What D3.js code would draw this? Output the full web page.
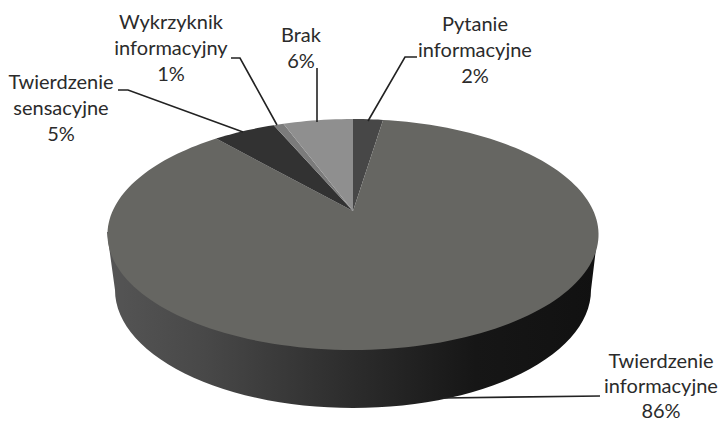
<!DOCTYPE html>
<html>
<head>
<meta charset="utf-8">
<script src="https://d3js.org/d3.v7.min.js"></script>
<style>
  html, body { margin: 0; background: #fff; }
  text { font-family: Lato, "Open Sans", sans-serif; font-size: 20px; fill: #2b2b2b; }
</style>
</head>
<body>
<div id="chart"></div>
<script>
// Shares, clockwise from 12 o'clock (labels show them rounded)
const categories = ["Pytanie informacyjne", "Twierdzenie informacyjne", "Twierdzenie sensacyjne", "Wykrzyknik informacyjny", "Brak"];
const values = [2.4, 86.2, 5.0, 0.8, 5.6];
const sliceColors = ["#474747", "#666662", "#323232", "#7b7b7b", "#8f8f8f"];

// label lines of text per category, in the same order
const labelLines = [["Pytanie", "informacyjne"], ["Twierdzenie", "informacyjne"], ["Twierdzenie", "sensacyjne"], ["Wykrzyknik", "informacyjny"], ["Brak"]];
const labelPos = [[475, 31], [661, 368], [61, 89], [171, 29], [301, 42]];
const labelStep = [26, 25, 26, 26, 26];
const leaders = [
  [[417, 57], [405, 57], [368, 121]],
  [[600, 396], [443, 398]],
  [[118, 90], [128, 90], [243, 132]],
  [[231, 58], [240, 58], [277, 125]],
  [[317, 68], [317, 122]]
];

const width = 722, height = 423;
const svg = d3.select("#chart").append("svg")
    .attr("width", width)
    .attr("height", height)
    .style("display", "block");

// Perspective of the tilted disc: the apex sits above the middle of the ellipse
const apex = {x: 353, y: 211};
const k = 0.2034;
const xScale = d3.scaleLinear().domain([-1, 1]).range([apex.x - 240.4, apex.x + 240.4]);
const yScale = d3.scaleLinear().domain([-1, 1]).range([apex.y + 110.7, apex.y - 110.7]);

function project(angle) {
  const u = Math.sin(angle), v = Math.cos(angle);
  const w = 1 + k * v;
  return [xScale(u / w), yScale(v / w)];
}

const pie = d3.pie().sort(null).value(d => d);
const arcs = pie(values);
const line = d3.line();

// Side wall
const defs = svg.append("defs");
const grad = defs.append("linearGradient").attr("id", "wall")
    .attr("gradientUnits", "userSpaceOnUse")
    .attr("x1", 107).attr("x2", 598).attr("y1", 0).attr("y2", 0);
[[0, "#555555"], [0.2, "#484848"], [0.5, "#2c2c2c"], [0.75, "#161616"], [1, "#111111"]]
  .forEach(s => grad.append("stop").attr("offset", s[0]).attr("stop-color", s[1]));

const bottomCx = 353, bottomCy = 290, bottomRx = 238, bottomRy = 118;
const wallBottom = d3.range(0, 181, 3).map(a => [
  bottomCx + bottomRx * Math.cos(a * Math.PI / 180),
  bottomCy + bottomRy * Math.sin(a * Math.PI / 180)
]);
svg.append("path")
    .attr("d", line([[598, 232]].concat(wallBottom, [[107, 232]])) + "Z")
    .attr("fill", "url(#wall)");

// Top face
svg.selectAll("path.slice")
  .data(arcs)
  .join("path")
    .attr("class", "slice")
    .attr("fill", (d, i) => sliceColors[i])
    .attr("d", d => {
      const n = Math.max(2, Math.ceil((d.endAngle - d.startAngle) / 0.03));
      const rim = d3.range(n + 1).map(j => project(d.startAngle + (d.endAngle - d.startAngle) * j / n));
      return line([[apex.x, apex.y]].concat(rim)) + "Z";
    });

// Leader lines
svg.selectAll("path.leader")
  .data(leaders)
  .join("path")
    .attr("class", "leader")
    .attr("fill", "none")
    .attr("stroke", "#222")
    .attr("stroke-width", 1.6)
    .attr("d", d => line(d));

// Labels
const labels = svg.selectAll("text.label")
  .data(categories)
  .join("text")
    .attr("class", "label")
    .attr("text-anchor", "middle");
labels.each(function(d, i) {
  const lines = labelLines[i].concat(d3.format(".0f")(values[i]) + "%");
  d3.select(this).selectAll("tspan")
    .data(lines)
    .join("tspan")
      .attr("x", labelPos[i][0])
      .attr("y", (t, j) => labelPos[i][1] + j * labelStep[i])
      .text(t => t);
});
</script>
</body>
</html>
